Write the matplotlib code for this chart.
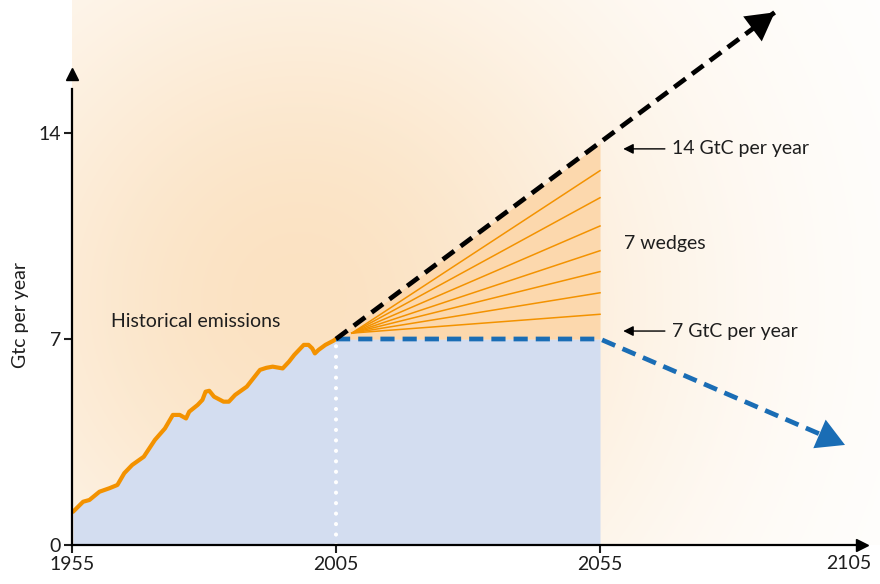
import numpy as np
import matplotlib
matplotlib.use('Agg')
import matplotlib.pyplot as plt

plt.rcParams['font.family'] = ['Lato', 'DejaVu Sans']

# historical emissions (GtC per year)
hist_years = [1955.2, 1957.1, 1958.3, 1960.2, 1962.1, 1963.6, 1964.9, 1966.4, 1968.6,
              1970.7, 1972.6, 1974.1, 1975.4, 1976.6, 1977.2, 1978.8, 1979.7, 1980.3,
              1981.0, 1981.9, 1983.7, 1984.7, 1985.9, 1988.1, 1990.6, 1991.8, 1993.0,
              1994.9, 1996.1, 1997.1, 1998.9, 1999.8, 2000.5, 2001.0, 2001.7, 2003.0,
              2004.5, 2005.0]
hist_values = [1.13, 1.47, 1.53, 1.81, 1.93, 2.04, 2.44, 2.72, 3.00,
               3.57, 3.96, 4.42, 4.42, 4.30, 4.53, 4.76, 4.93, 5.21,
               5.24, 5.04, 4.87, 4.87, 5.10, 5.38, 5.95, 6.02, 6.06,
               6.00, 6.23, 6.46, 6.80, 6.80, 6.68, 6.51, 6.63, 6.80,
               6.94, 7.00]

# business as usual path (black) and stabilisation path (blue)
bau_years = [2005, 2088.1]
bau_values = [7.0, 18.1]
stab_years = [2005, 2055, 2101.4]
stab_values = [7.0, 7.0, 3.4]

# wedge triangle and the lines between the wedges
wedge_years = [2005, 2055]
wedge_top = [7.0, 13.65]
fan_start = (2008.0, 7.2)
fan_ends = [7.84, 8.57, 9.29, 10.0, 10.84, 11.80, 12.72]

xticks = [1955, 2005, 2055]
yticks = [0, 7, 14]

orange = '#f39200'
blue = '#1a6db5'
txt = '#1e1e1e'

fig = plt.figure(figsize=(8.8, 5.84), dpi=100)
ax = fig.add_axes([72 / 880, 39 / 584, 808 / 880, 545 / 584])
sx_px, sy_px = 5.28, 29.43
x0, x1 = 1955, 1955 + 808 / sx_px
y0, y1 = 0, 545 / sy_px
ax.set_xlim(x0, x1)
ax.set_ylim(y0, y1)

# soft orange glow in the background
nx, ny = 400, 270
gx = np.linspace(x0, x1, nx)
gy = np.linspace(y0, y1, ny)
GX, GY = np.meshgrid(gx, gy)
px = (GX - 1998) * sx_px
py = (GY - 8.3) * sy_px
d = np.sqrt(px ** 2 + py ** 2)
f = np.exp(-(d / 370.0) ** 2)
c = np.array([251, 226, 194]) / 255.0
img = np.ones((ny, nx, 3)) * (1 - f[..., None]) + c * f[..., None]
ax.imshow(img, extent=[x0, x1, y0, y1], origin='lower', aspect='auto', zorder=0)

# blue area: history plus flat 7 GtC until 2055
ax.fill_between(hist_years + [2055], hist_values + [7.0], 0, color='#d3ddf0', lw=0, zorder=1)
ax.fill_between(wedge_years, [7.0, 7.0], wedge_top, color='#fcd8ad', lw=0, zorder=1)

for v in fan_ends:
    ax.plot([fan_start[0], 2055], [fan_start[1], v], color=orange, lw=1.1, zorder=2)

ax.plot(hist_years, hist_values, color=orange, lw=3.0, solid_capstyle='round', zorder=3)
ax.plot([2005, 2005], [0, 7.0], color='white', lw=3, linestyle=(0, (0.01, 2.5)),
        dash_capstyle='round', zorder=3)

ax.plot(stab_years, stab_values, color=blue, lw=3.4, dashes=(3, 1.7),
        solid_joinstyle='round', dash_joinstyle='round', zorder=4)
ax.plot(bau_years, bau_values, color='black', lw=3.4, dashes=(3, 1.7), zorder=4)

# arrow heads
for (xs, ys, col) in [(bau_years, bau_values, 'black'), (stab_years[1:], stab_values[1:], blue)]:
    tx, ty = xs[-1], ys[-1]
    sx = tx - (xs[-1] - xs[-2]) * 0.12
    sy = ty - (ys[-1] - ys[-2]) * 0.12
    ax.annotate('', xy=(tx, ty), xytext=(sx, sy),
                arrowprops=dict(arrowstyle='-|>,head_length=0.5,head_width=0.28',
                                mutation_scale=40, lw=0, color=col,
                                shrinkA=0, shrinkB=0), zorder=5)

# axes
for s in ['top', 'right']:
    ax.spines[s].set_visible(False)
ax.spines['left'].set_bounds(0, 15.5)
ax.spines['bottom'].set_bounds(1955, 2103.5)
for s in ['left', 'bottom']:
    ax.spines[s].set_linewidth(1.6)
    ax.spines[s].set_zorder(6)
ax.plot(1955, 16.0, '^k', ms=9, clip_on=False, zorder=7)
ax.plot(2104.6, 0, '>k', ms=9, clip_on=False, zorder=7)

ax.set_xticks(xticks)
ax.set_yticks(yticks)
ax.tick_params(direction='out', length=6, width=1.5, labelsize=14, pad=2, colors=txt)
ax.text(2102.2, -0.35, '2105', ha='center', va='top', fontsize=14, color=txt)
ax.text(1945.2, 7.8, 'Gtc per year', rotation=90, ha='center', va='center',
        fontsize=14, color=txt, clip_on=False)

ax.text(1962.4, 7.58, 'Historical emissions', ha='left', va='center', fontsize=14, color=txt)
ax.text(2059.5, 10.23, '7 wedges', ha='left', va='center', fontsize=14, color=txt)
for label, yv in [('14 GtC per year', 13.46), ('7 GtC per year', 7.27)]:
    ax.annotate(label, xy=(2059.4, yv), xytext=(2068.6, yv), ha='left', va='center',
                fontsize=14, color=txt,
                arrowprops=dict(arrowstyle='-|>,head_length=0.5,head_width=0.25',
                                color='black', lw=1.0, shrinkA=3, shrinkB=0,
                                mutation_scale=12))

fig.savefig('out.png', dpi=100)
